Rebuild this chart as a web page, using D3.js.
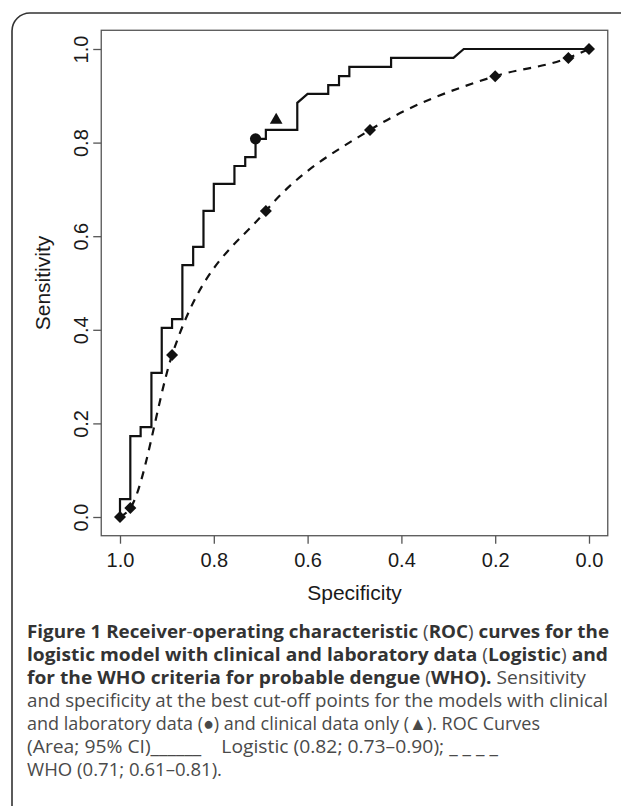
<!DOCTYPE html>
<html>
<head>
<meta charset="utf-8">
<script src="https://cdn.jsdelivr.net/npm/d3@7"></script>
<style>
  body { margin: 0; background: #fff; }
  svg { display: block; }
</style>
</head>
<body>
<div id="chart"></div>
<script>
// Logistic model ROC (specificity, sensitivity) vertices
var logSpec = [1.000, 1.000, 0.978, 0.978, 0.956, 0.956, 0.933, 0.933, 0.911, 0.911,
               0.889, 0.889, 0.867, 0.867, 0.844, 0.844, 0.822, 0.822, 0.800, 0.800,
               0.756, 0.756, 0.733, 0.733, 0.711, 0.711, 0.689, 0.689, 0.622, 0.622,
               0.600, 0.556, 0.556, 0.533, 0.533, 0.511, 0.511, 0.422, 0.422, 0.289,
               0.267, 0.000];
var logSens = [0.000, 0.038, 0.038, 0.173, 0.173, 0.192, 0.192, 0.308, 0.308, 0.404,
               0.404, 0.423, 0.423, 0.538, 0.538, 0.577, 0.577, 0.654, 0.654, 0.712,
               0.712, 0.750, 0.750, 0.769, 0.769, 0.808, 0.808, 0.827, 0.827, 0.885,
               0.904, 0.904, 0.923, 0.923, 0.942, 0.942, 0.962, 0.962, 0.981, 0.981,
               1.000, 1.000];

// WHO criteria ROC points
var whoSpec = [1.000, 0.978, 0.889, 0.689, 0.467, 0.200, 0.044, 0.000];
var whoSens = [0.000, 0.019, 0.346, 0.654, 0.827, 0.942, 0.981, 1.000];

// best cut-off points
var cutLab = { spec: 0.711, sens: 0.808 };   // clinical + laboratory (circle)
var cutClin = { spec: 0.667, sens: 0.848 };  // clinical only (triangle)

var xTicks = [1.0, 0.8, 0.6, 0.4, 0.2, 0.0];
var yTicks = [0.0, 0.2, 0.4, 0.6, 0.8, 1.0];

var captionLines = [
  [["b", "Figure 1 Receiver"], ["r", "-"], ["b", "operating characteristic "], ["r", "("], ["b", "ROC"], ["r", ")"], ["b", " curves for the"]],
  [["b", "logistic model with clinical and laboratory data "], ["r", "("], ["b", "Logistic"], ["r", ")"], ["b", " and"]],
  [["b", "for the WHO criteria for probable dengue "], ["r", "("], ["b", "WHO)."], ["r", " Sensitivity"]],
  [["r", "and specificity at the best cut-off points for the models with clinical"]],
  [["r", "and laboratory data (\u25CF) and clinical data only (\u25B2). ROC Curves"]],
  [["r", "(Area; 95% CI)______    Logistic (0.82; 0.73\u20130.90); _ _ _ _"]],
  [["r", "WHO (0.71; 0.61\u20130.81)."]]
];
var captionWidths = [582, 581, 559, 581, 513, 471, 195];

var W = 621, H = 806;

var svg = d3.select("#chart").append("svg")
    .attr("width", W)
    .attr("height", H);

// outer panel frame (rounded top-left corner)
svg.append("path")
    .attr("d", "M12," + H + " L12,31 A18,18 0 0 1 30,13 L" + W + ",13")
    .attr("fill", "none")
    .attr("stroke", "#333")
    .attr("stroke-width", 1.6);

var x = d3.scaleLinear().domain([1, 0]).range([120, 589]);
var y = d3.scaleLinear().domain([0, 1]).range([517, 49]);

var boxL = x(1.04), boxR = x(-0.04), boxT = y(1.04), boxB = y(-0.04);

// axes
var xAxis = svg.append("g")
    .attr("transform", "translate(0," + boxB + ")")
    .call(d3.axisBottom(x).tickValues(xTicks).tickSize(8).tickSizeOuter(0)
        .tickFormat(d3.format(".1f")));
xAxis.select(".domain").remove();
xAxis.selectAll(".tick line").attr("stroke", "#555").attr("stroke-width", 1.3);
xAxis.selectAll(".tick text")
    .attr("y", 31).attr("dy", 0)
    .style("font-family", "'Liberation Sans', Arial, sans-serif")
    .style("font-size", "20px")
    .attr("fill", "#1a1a1a");

var yAxis = svg.append("g")
    .attr("transform", "translate(" + boxL + ",0)")
    .call(d3.axisLeft(y).tickValues(yTicks).tickSize(8).tickSizeOuter(0)
        .tickFormat(d3.format(".1f")));
yAxis.select(".domain").remove();
yAxis.selectAll(".tick line").attr("stroke", "#555").attr("stroke-width", 1.3);
yAxis.selectAll(".tick text")
    .attr("x", 0).attr("dy", 0)
    .attr("text-anchor", "middle")
    .attr("transform", "translate(" + (88 - boxL) + ",0) rotate(-90)")
    .style("font-family", "'Liberation Sans', Arial, sans-serif")
    .style("font-size", "20px")
    .attr("fill", "#1a1a1a");

// plot box
svg.append("rect")
    .attr("x", boxL).attr("y", boxT)
    .attr("width", boxR - boxL).attr("height", boxB - boxT)
    .attr("fill", "none")
    .attr("stroke", "#555")
    .attr("stroke-width", 1.3);

// axis titles
svg.append("text")
    .attr("x", (boxL + boxR) / 2).attr("y", 600)
    .attr("text-anchor", "middle")
    .style("font-family", "'Liberation Sans', Arial, sans-serif")
    .style("font-size", "21px")
    .attr("fill", "#1a1a1a")
    .text("Specificity");

svg.append("text")
    .attr("transform", "translate(50," + ((boxT + boxB) / 2) + ") rotate(-90)")
    .attr("text-anchor", "middle")
    .style("font-family", "'Liberation Sans', Arial, sans-serif")
    .style("font-size", "21px")
    .attr("fill", "#1a1a1a")
    .text("Sensitivity");

// WHO dashed curve
var whoData = whoSpec.map(function (d, i) { return { spec: d, sens: whoSens[i] }; });
svg.append("path")
    .datum(whoData)
    .attr("fill", "none")
    .attr("stroke", "#111")
    .attr("stroke-width", 2.2)
    .attr("stroke-dasharray", "8,7")
    .attr("d", d3.line()
        .x(function (d) { return x(d.spec); })
        .y(function (d) { return y(d.sens); })
        .curve(d3.curveMonotoneX));

// Logistic step curve
var logData = logSpec.map(function (d, i) { return { spec: d, sens: logSens[i] }; });
svg.append("path")
    .datum(logData)
    .attr("fill", "none")
    .attr("stroke", "#111")
    .attr("stroke-width", 2.2)
    .attr("stroke-linejoin", "miter")
    .attr("d", d3.line()
        .x(function (d) { return x(d.spec); })
        .y(function (d) { return y(d.sens); }));

// WHO diamonds
svg.append("g")
    .selectAll("path")
    .data(whoData)
    .enter()
    .append("path")
    .attr("transform", function (d) { return "translate(" + x(d.spec) + "," + y(d.sens) + ")"; })
    .attr("d", "M0,-6L6,0L0,6L-6,0Z")
    .attr("fill", "#111");

// best cut-off markers
svg.append("circle")
    .attr("cx", x(cutLab.spec)).attr("cy", y(cutLab.sens))
    .attr("r", 5.6)
    .attr("fill", "#111");

svg.append("path")
    .attr("transform", "translate(" + x(cutClin.spec) + "," + y(cutClin.sens) + ")")
    .attr("d", d3.symbol().type(d3.symbolTriangle).size(70)())
    .attr("fill", "#111");

// caption
var cap = svg.append("g")
    .style("font-family", "'Open Sans', 'Noto Sans', sans-serif")
    .style("font-size", "18.5px");

captionLines.forEach(function (line, i) {
    var t = cap.append("text")
        .attr("x", 27)
        .attr("y", 638 + i * 23)
        .attr("textLength", captionWidths[i])
        .attr("lengthAdjust", "spacingAndGlyphs")
        .style("white-space", "pre");
    line.forEach(function (part) {
        t.append("tspan")
            .attr("font-weight", part[0] == "b" ? 700 : 400)
            .attr("fill", part[0] == "b" ? "#333" : "#4a4a4a")
            .text(part[1]);
    });
});
</script>
</body>
</html>
